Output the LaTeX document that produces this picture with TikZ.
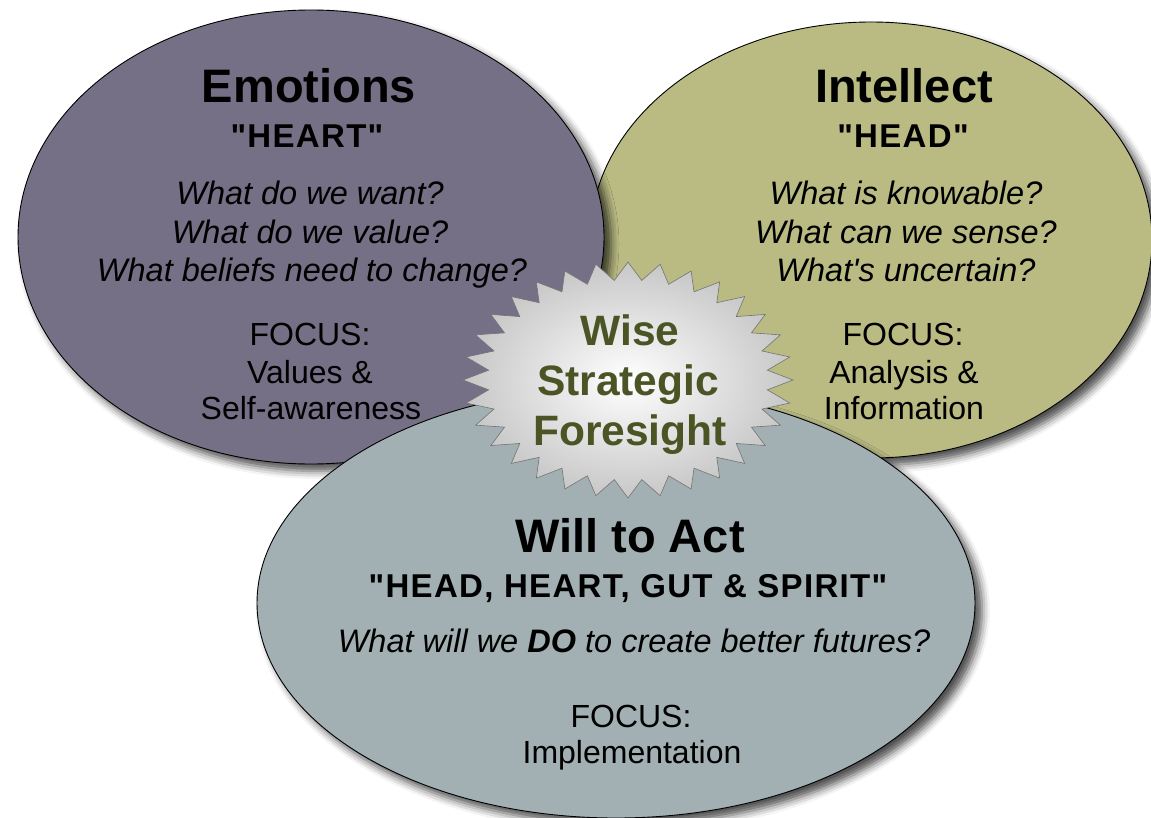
\documentclass[tikz,border=0pt]{standalone}
\usepackage{fontspec}
\setmainfont{Liberation Sans}[Ligatures=TeXOff]
\newfontfamily\spacedbold{Liberation Sans}[Ligatures=TeXOff, LetterSpace=4, BoldFont={* Bold}]
\usetikzlibrary{shapes.geometric,shadows.blur}
\definecolor{emofill}{RGB}{118,112,134}
\definecolor{intfill}{RGB}{185,187,131}
\definecolor{willfill}{RGB}{162,176,179}
\definecolor{wisetext}{RGB}{74,84,36}
\tikzset{
 oval/.style={ellipse, draw=black, line width=0.9pt, inner sep=0pt,
   blur shadow={shadow xshift=7pt, shadow yshift=-7pt, shadow blur radius=8pt, shadow opacity=70}},
 titletxt/.style={font=\fontsize{47}{50}\selectfont\bfseries, anchor=base, inner sep=0pt},
 subtxt/.style={font=\spacedbold\fontsize{33}{36}\selectfont\bfseries, anchor=base, inner sep=0pt},
 questtxt/.style={font=\fontsize{32.5}{36}\selectfont\itshape, anchor=base, inner sep=0pt},
 focustxt/.style={font=\fontsize{32}{36}\selectfont, anchor=base, inner sep=0pt},
 wisetxt/.style={font=\fontsize{42.5}{45}\selectfont\bfseries, text=wisetext, anchor=base, inner sep=0pt},
}
\begin{document}
\begin{tikzpicture}[x=1pt,y=-1pt]
\useasboundingbox (0,0) rectangle (1151,817);
% ovals
\node[oval, fill=intfill, minimum width=562pt, minimum height=436pt] (intellect) at (871,240) {};
\node[oval, fill=emofill, minimum width=586pt, minimum height=454pt] (emotions) at (311,237) {};
\node[oval, fill=willfill, minimum width=718pt, minimum height=430pt] (will) at (616,603) {};
% star
\path[draw=black!55, line width=0.6pt, shading=radial, inner color=white, outer color=black!22]
  (793,380) \foreach \k in {0,...,31} {
    -- ({628+140*cos(\k*11.25+5.625)},{380+100*sin(\k*11.25+5.625)})
    -- ({628+165*cos((\k+1)*11.25)},{380+118*sin((\k+1)*11.25)})
  } -- cycle;
% Emotions texts
\node[titletxt] (e1) at (309,102) {Emotions};
\node[subtxt] (e2) at (307,147) {"HEART"};
\node[questtxt] (e3) at (310,204) {What do we want?};
\node[questtxt] (e4) at (310,243) {What do we value?};
\node[questtxt] (e5) at (312,281) {What beliefs need to change?};
\node[focustxt] (e6) at (310,345) {FOCUS:};
\node[focustxt] (e7) at (310,383) {Values \&};
\node[focustxt] (e8) at (311,419) {Self-awareness};
% Intellect texts
\node[titletxt] (i1) at (904,102) {Intellect};
\node[subtxt] (i2) at (903,147) {"HEAD"};
\node[questtxt] (i3) at (906,204) {What is knowable?};
\node[questtxt] (i4) at (906,243) {What can we sense?};
\node[questtxt] (i5) at (906,281) {What's uncertain?};
\node[focustxt] (i6) at (903,345) {FOCUS:};
\node[focustxt] (i7) at (904,383) {Analysis \&};
\node[focustxt] (i8) at (904,419) {Information};
% Will to Act texts
\node[titletxt] (w1) at (630,552) {Will to Act};
\node[subtxt] (w2) at (628,597) {"HEAD, HEART, GUT \& SPIRIT"};
\node[questtxt] (w3) at (634,652) {What will we \textbf{DO} to create better futures?};
\node[focustxt] (w4) at (631,727) {FOCUS:};
\node[focustxt] (w5) at (632,763) {Implementation};
% Star texts
\node[wisetxt] (s1) at (630,345) {Wise};
\node[wisetxt] (s2) at (628,395) {Strategic};
\node[wisetxt] (s3) at (630,445) {Foresight};
\end{tikzpicture}
\end{document}
